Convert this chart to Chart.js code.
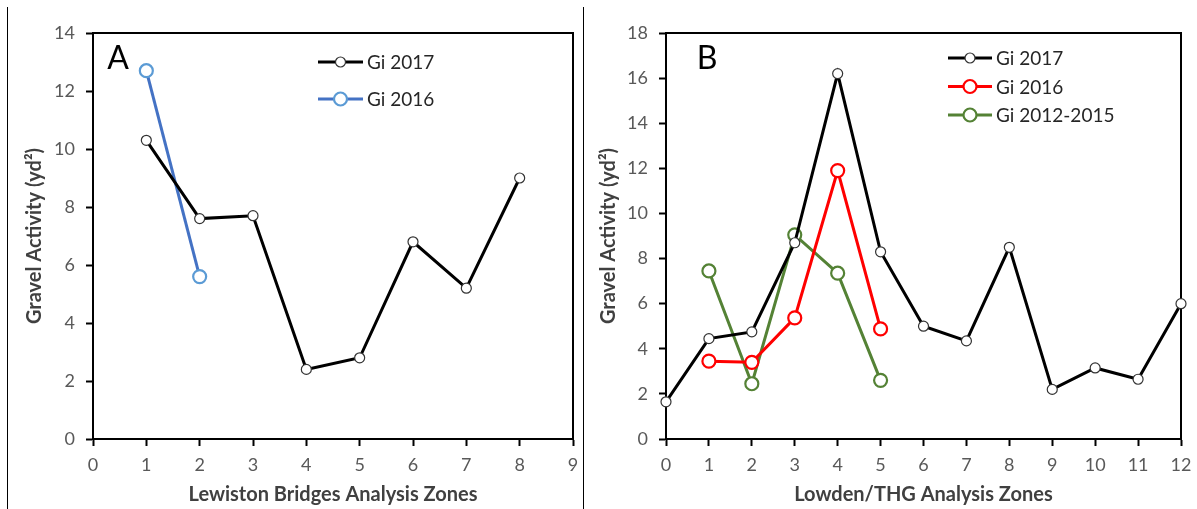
<!DOCTYPE html>
<html>
<head>
<meta charset="utf-8">
<script src="https://cdn.jsdelivr.net/npm/chart.js@4.4.1/dist/chart.umd.min.js"></script>
<style>
  body { margin: 0; background: #fff; }
  #wrap { position: relative; width: 1197px; height: 509px; overflow: hidden; }
  canvas { position: absolute; top: 0; }
  .sep { position: absolute; top: 7px; bottom: 0; width: 0; border-left: 1px solid #000; }
</style>
</head>
<body>
<div id="wrap">
  <div class="sep" style="left:7px"></div>
  <div class="sep" style="left:583px"></div>
  <canvas id="chartA" width="583" height="509" style="left:0"></canvas>
  <canvas id="chartB" width="613" height="509" style="left:584px"></canvas>
</div>
<script>
// Panel A - Lewiston Bridges
const zonesA2017 = [1, 2, 3, 4, 5, 6, 7, 8];
const giA2017 = [10.3, 7.6, 7.7, 2.4, 2.8, 6.8, 5.2, 9.0];
const zonesA2016 = [1, 2];
const giA2016 = [12.7, 5.6];

// Panel B - Lowden/THG
const zonesB2017 = [0, 1, 2, 3, 4, 5, 6, 7, 8, 9, 10, 11, 12];
const giB2017 = [1.65, 4.45, 4.75, 8.7, 16.2, 8.3, 5.0, 4.35, 8.5, 2.2, 3.15, 2.65, 6.0];
const zonesB2016 = [1, 2, 3, 4, 5];
const giB2016 = [3.45, 3.4, 5.37, 11.9, 4.88];
const zonesB1215 = [1, 2, 3, 4, 5];
const giB1215 = [7.45, 2.45, 9.05, 7.35, 2.6];

const xTitleA = 'Lewiston Bridges Analysis Zones';
const xTitleB = 'Lowden/THG Analysis Zones';
const yTitle = 'Gravel Activity (yd²)';

const FONT = 'Lato, "Noto Sans", sans-serif';
const TEXT = '#595959';

function pts(xs, ys) {
    return xs.map((x, i) => ({x: x, y: ys[i]}));
}

// box around the plot + panel letter + legend
const panelPlugin = {
    id: 'panel',
    beforeDatasetsDraw(chart) {
        const a = chart.chartArea;
        const ctx = chart.ctx;
        ctx.save();
        ctx.strokeStyle = '#000';
        ctx.lineWidth = 2;
        ctx.strokeRect(a.left, a.top, a.right - a.left, a.bottom - a.top);
        ctx.restore();
    },
    afterDraw(chart, args, opts) {
        const ctx = chart.ctx;
        ctx.save();
        ctx.fillStyle = '#000';
        ctx.font = '32px ' + FONT;
        ctx.textAlign = 'center';
        ctx.textBaseline = 'middle';
        ctx.fillText(opts.letter, opts.letterX, opts.letterY);

        ctx.font = '19px ' + FONT;
        ctx.textAlign = 'left';
        chart.data.datasets.forEach((ds, i) => {
            const y = opts.legY + i * opts.legGap;
            ctx.strokeStyle = ds.borderColor;
            ctx.lineWidth = ds.borderWidth;
            ctx.beginPath();
            ctx.moveTo(opts.legX, y);
            ctx.lineTo(opts.legX + opts.legLen, y);
            ctx.stroke();
            ctx.beginPath();
            ctx.arc(opts.legX + opts.legLen / 2, y, ds.pointRadius, 0, Math.PI * 2);
            ctx.fillStyle = ds.pointBackgroundColor;
            ctx.fill();
            ctx.strokeStyle = ds.pointBorderColor;
            ctx.lineWidth = ds.pointBorderWidth;
            ctx.stroke();
            ctx.fillStyle = '#262626';
            ctx.fillText(ds.label, opts.legX + opts.legLen + 4, y + 1);
        });
        ctx.restore();
    }
};

function smallSeries(label, data) {
    return {
        label: label, data: data,
        borderColor: '#000', borderWidth: 3,
        pointRadius: 5, pointHoverRadius: 5,
        pointBackgroundColor: '#fff', pointBorderColor: '#333', pointBorderWidth: 1.2,
        clip: false
    };
}
function bigSeries(label, data, line, marker) {
    return {
        label: label, data: data,
        borderColor: line, borderWidth: 3,
        pointRadius: 6.5, pointHoverRadius: 6.5,
        pointBackgroundColor: '#fff', pointBorderColor: marker, pointBorderWidth: 2.2,
        clip: false
    };
}

function makeOptions(xMax, yMax, yStep, yWidth, yTitlePad, rightPad, xTitle, panel) {
    const tickFont = {family: FONT, size: 18};
    const titleFont = {family: FONT, size: 20, weight: 'bold'};
    return {
        responsive: false,
        animation: false,
        layout: {padding: {left: 0, right: rightPad, top: 33, bottom: 0}},
        plugins: {legend: {display: false}, tooltip: {enabled: false}, panel: panel},
        scales: {
            x: {
                type: 'linear', min: 0, max: xMax,
                ticks: {stepSize: 1, color: TEXT, font: tickFont, padding: 8, maxRotation: 0},
                grid: {drawOnChartArea: false, tickLength: 7, tickWidth: 2, tickColor: '#000'},
                border: {color: '#000', width: 2},
                title: {display: true, text: xTitle, color: '#404040', font: titleFont, padding: {top: 0, bottom: 2}},
                afterFit: s => { s.height = 70; s.paddingLeft = 0; s.paddingRight = 0; }
            },
            y: {
                type: 'linear', min: 0, max: yMax,
                ticks: {stepSize: yStep, color: TEXT, font: tickFont, padding: 11},
                grid: {drawOnChartArea: false, tickLength: 7, tickWidth: 2, tickColor: '#000'},
                border: {color: '#000', width: 2},
                title: {display: true, text: yTitle, color: '#404040', font: titleFont, padding: {top: yTitlePad, bottom: 0}},
                afterFit: s => { s.width = yWidth; s.paddingTop = 0; s.paddingBottom = 0; }
            }
        }
    };
}

new Chart(document.getElementById('chartA'), {
    type: 'line',
    data: {
        datasets: [
            smallSeries('Gi 2017', pts(zonesA2017, giA2017)),
            bigSeries('Gi 2016', pts(zonesA2016, giA2016), '#4472C4', '#5B9BD5')
        ]
    },
    options: makeOptions(9, 14, 2, 93, 23, 10, xTitleA,
        {letter: 'A', letterX: 118, letterY: 59, legX: 318, legLen: 45, legY: 62, legGap: 37}),
    plugins: [panelPlugin]
});

new Chart(document.getElementById('chartB'), {
    type: 'line',
    data: {
        datasets: [
            smallSeries('Gi 2017', pts(zonesB2017, giB2017)),
            bigSeries('Gi 2016', pts(zonesB2016, giB2016), '#FF0000', '#FF0000'),
            bigSeries('Gi 2012-2015', pts(zonesB1215, giB1215), '#548235', '#548235')
        ]
    },
    options: makeOptions(12, 18, 2, 82, 13, 16, xTitleB,
        {letter: 'B', letterX: 123, letterY: 59, legX: 364, legLen: 44, legY: 58, legGap: 28.5}),
    plugins: [panelPlugin]
});
</script>
</body>
</html>
